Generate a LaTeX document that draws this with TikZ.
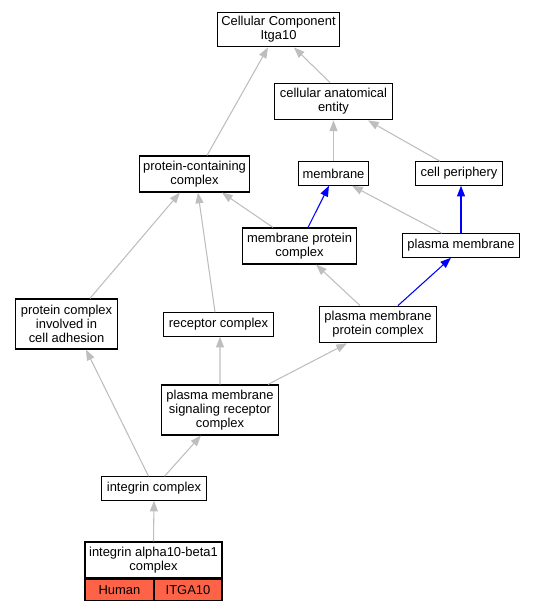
\documentclass[tikz,border=0pt]{standalone}
\usepackage{fontspec}
\setmainfont{Liberation Sans}
\usepackage{tikz}
\usetikzlibrary{positioning,arrows.meta}

\definecolor{edgegray}{RGB}{190,190,190}
\definecolor{tomato}{RGB}{255,99,71}

\tikzset{
	term/.style={draw, line width=0.9pt, inner sep=0pt, align=center,
		font=\fontsize{9.7}{10.4}\selectfont},
	isa/.style={-{Triangle[length=8pt,width=6pt]}, edgegray, line width=0.8pt},
	partof/.style={-{Triangle[length=8pt,width=6pt]}, blue, line width=0.8pt},
	tag/.style={term, fill=tomato},
}

\begin{document}
\begin{tikzpicture}[x=0.75pt,y=-0.75pt]
\useasboundingbox (0,0) rectangle (536,611);

% Root
\node [term, minimum width=92pt, minimum height=26pt] (cc) at (278.5,29.5) {Cellular Component\\Itga10};

% Upper level
\node [term, minimum width=88pt, minimum height=27.5pt] (cae) at (333.5,101.5) {cellular anatomical\\entity};
\node [term, minimum width=83pt, minimum height=27pt] (pcc) at (194.5,174) {protein-containing\\complex};
\node [term, minimum width=53pt, minimum height=17.5pt] (mem) at (333.5,173.5) {membrane};
\node [term, minimum width=65pt, minimum height=17.5pt] (cp) at (459,173.5) {cell periphery};

% Membranes
\node [term, minimum width=86pt, minimum height=27pt] (mpc) at (299.5,246) {membrane protein\\complex};
\node [term, minimum width=88pt, minimum height=17.5pt] (pm) at (461,245.5) {plasma membrane};

% Complexes
\node [term, minimum width=77pt, minimum height=37.5pt] (adh) at (66.5,324) {protein complex\\involved in\\cell adhesion};
\node [term, minimum width=83pt, minimum height=17.5pt] (rc) at (218.5,324.5) {receptor complex};
\node [term, minimum width=88pt, minimum height=27.5pt] (pmpc) at (378,324.5) {plasma membrane\\protein complex};
\node [term, minimum width=88pt, minimum height=37.5pt] (pmsrc) at (220,410) {plasma membrane\\signaling receptor\\complex};
\node [term, minimum width=79pt, minimum height=17.5pt] (ic) at (154,488.5) {integrin complex};

% Gene product
\node [term, minimum width=102.75pt, minimum height=27pt] (iab) at (153.5,560) {integrin alpha10-beta1\\complex};
\node [tag, minimum width=51.75pt, minimum height=16pt, anchor=north west] (hum) at (iab.south west) {Human};
\node [tag, minimum width=51pt, minimum height=16pt, anchor=north east] (gene) at (iab.south east) {ITGA10};

% Edges
\draw[isa] (iab.north) -- (ic.south);
\draw[isa] ([xshift=-4.1pt]ic.north) -- ([xshift=14.6pt]adh.south);
\draw[isa] ([xshift=7.9pt]ic.north) -- ([xshift=-14.3pt]pmsrc.south);
\draw[isa] (pmsrc.north) -- ([xshift=1.1pt]rc.south);
\draw[isa] ([xshift=36pt]pmsrc.north) -- ([xshift=-23.3pt]pmpc.south);
\draw[isa] ([xshift=17.6pt]adh.north) -- ([xshift=-10.9pt]pcc.south);
\draw[isa] ([xshift=-2.6pt]rc.north) -- ([xshift=2.6pt]pcc.south);
\draw[isa] ([xshift=-19.9pt]mpc.north) -- ([xshift=20.6pt]pcc.south);
\draw[isa] ([xshift=-13.5pt]pmpc.north) -- ([xshift=12.4pt]mpc.south);
\draw[partof] ([xshift=15pt]pmpc.north) -- ([xshift=-7.5pt]pm.south);
\draw[partof] ([xshift=6.4pt]mpc.north) -- ([xshift=-3.4pt]mem.south);
\draw[isa] ([xshift=-14.3pt]pm.north) -- ([xshift=13.9pt]mem.south);
\draw[partof] (pm.north) -- ([xshift=1.5pt]cp.south);
\draw[isa] (mem.north) -- (cae.south);
\draw[isa] ([xshift=-14.3pt]cp.north) -- ([xshift=25.9pt]cae.south);
\draw[isa] ([xshift=-2.6pt]cae.north) -- ([xshift=11.6pt]cc.south);
\draw[isa] ([xshift=9.4pt]pcc.north) -- ([xshift=-7.9pt]cc.south);

\end{tikzpicture}
\end{document}
